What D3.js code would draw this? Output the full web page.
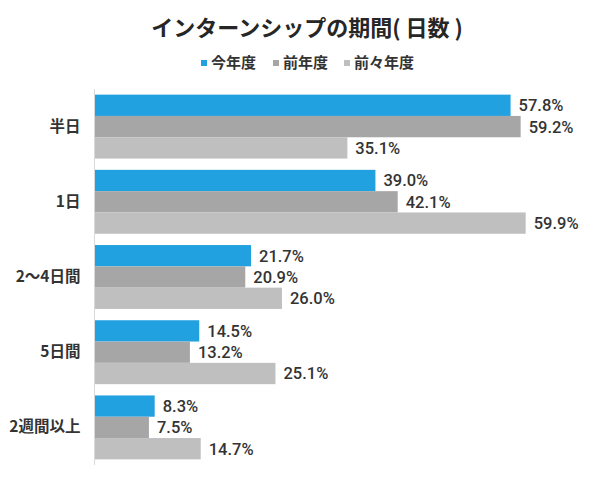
<!DOCTYPE html>
<html><head><meta charset="utf-8">
<script src="https://cdn.jsdelivr.net/npm/d3@7"></script>
<style>body{margin:0;background:#fff}</style>
</head><body>
<svg id="c" width="613" height="480"></svg>
<script>
const title = "インターンシップの期間( 日数 )";
const categories = ["半日", "1日", "2～4日間", "5日間", "2週間以上"];
const seriesNames = ["今年度", "前年度", "前々年度"];
const thisYear = [57.8, 39.0, 21.7, 14.5, 8.3];
const lastYear = [59.2, 42.1, 20.9, 13.2, 7.5];
const twoYearsAgo = [35.1, 59.9, 26.0, 25.1, 14.7];
const colors = ["#22a1e0", "#a6a6a6", "#bfbfbf"];

const series = [thisYear, lastYear, twoYearsAgo];
const svg = d3.select("#c");
const jp = "'Noto Sans CJK JP', 'Noto Sans', sans-serif";

svg.append("text").attr("x", 307).attr("y", 36).attr("text-anchor", "middle")
  .attr("font-family", jp).attr("font-weight", 700).attr("font-size", 22)
  .attr("fill", "#262626").text(title);

// legend
const legX = [201, 273, 344];
seriesNames.forEach((n, i) => {
  const g = svg.append("g").attr("transform", `translate(${legX[i]},63)`);
  g.append("rect").attr("x", 0).attr("y", -3).attr("width", 6).attr("height", 6).attr("fill", colors[i]);
  g.append("text").attr("x", 10).attr("y", 0).attr("dy", "0.36em")
    .attr("font-family", jp).attr("font-weight", 700).attr("font-size", 15)
    .attr("fill", "#333").text(n);
});

const x = d3.scaleLinear().domain([0, 60]).range([95, 526.4]);
const y = d3.scaleBand().domain(categories).range([89, 465]).paddingInner(0.15).paddingOuter(0.075);
const ySub = d3.scaleBand().domain(d3.range(3)).range([0, y.bandwidth()]);

const groups = svg.append("g").selectAll("g").data(categories).join("g")
  .attr("transform", d => `translate(0,${y(d)})`);

series.forEach((vals, si) => {
  groups.append("rect")
    .attr("x", x(0)).attr("y", ySub(si))
    .attr("width", (d, i) => x(vals[i]) - x(0))
    .attr("height", ySub.bandwidth())
    .attr("fill", colors[si]);
  groups.append("text")
    .attr("x", (d, i) => x(vals[i]) + 8)
    .attr("y", ySub(si) + ySub.bandwidth() / 2)
    .attr("dy", "0.36em")
    .attr("font-family", "Roboto, sans-serif").attr("font-weight", 500).attr("font-size", 16.5)
    .attr("fill", "#333")
    .text((d, i) => vals[i].toFixed(1) + "%");
});

// category axis
const axis = d3.axisLeft(y).tickSize(0).tickPadding(14);
const ag = svg.append("g").attr("transform", `translate(94.5,0)`).call(axis);
ag.select(".domain").attr("stroke", "#d9d9d9").attr("d", "M0,89V465");
ag.selectAll("text").attr("font-family", jp).attr("font-weight", 700).attr("font-size", 15.5)
  .attr("fill", "#333");
</script>
</body></html>
